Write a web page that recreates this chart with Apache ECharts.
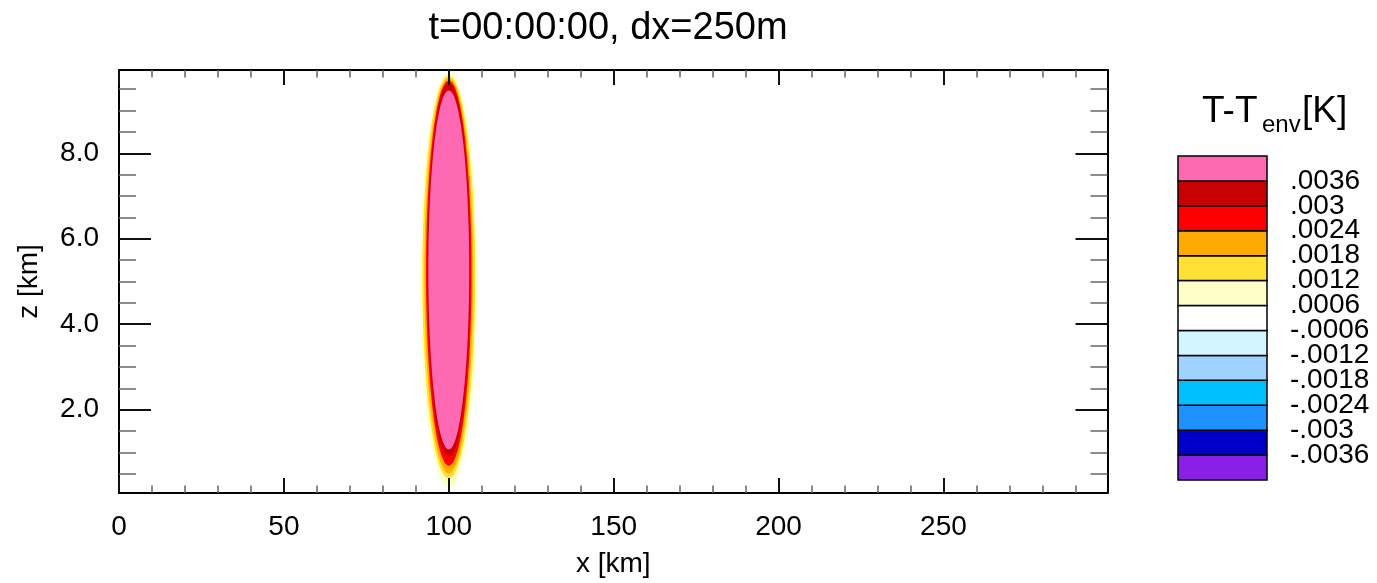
<!DOCTYPE html>
<html>
<head>
<meta charset="utf-8">
<title>T-Tenv, t=00:00:00</title>
<script src="https://cdn.jsdelivr.net/npm/echarts@6/dist/echarts.min.js"></script>
<style>
html, body { margin: 0; padding: 0; background: #fff; }
#chart { width: 1377px; height: 583px; }
</style>
</head>
<body>
<div id="chart"></div>
<script>
const FONT = '"Liberation Sans", Arial, Helvetica, sans-serif';

// contour bands of the bubble, outermost first (km)
const bandLevels = [0.0006, 0.0012, 0.0018, 0.0024, 0.003, 0.0036];
const bandColors = ['#ffffc8', '#ffe033', '#ffaa00', '#ff0000', '#c80000', '#ff69b4'];
const bandCenterX = [100, 100, 100, 100, 100, 100];
const bandHalfWidth = [8.7, 8.0, 7.4, 6.9, 6.5, 6.2];
const bandTop = [9.88, 9.82, 9.76, 9.70, 9.63, 9.47];
const bandBottom = [0.16, 0.39, 0.51, 0.69, 0.90, 1.07];

// axes
const xMin = 0, xMax = 299.75;
const zMin = 0.05, zMax = 9.95;
const xMajor = [0, 50, 100, 150, 200, 250];
const xMinor = [10, 20, 30, 40, 60, 70, 80, 90, 110, 120, 130, 140, 160, 170, 180, 190,
                210, 220, 230, 240, 260, 270, 280, 290];
const zMajor = [2, 4, 6, 8];
const zMinor = [0.5, 1, 1.5, 2.5, 3, 3.5, 4.5, 5, 5.5, 6.5, 7, 7.5, 8.5, 9, 9.5];

// colour bar, bottom to top
const cbColors = ['#8a1fe8', '#0000c8', '#1e90ff', '#00bfff', '#a0d2ff', '#d2f5ff', '#ffffff',
                  '#ffffc8', '#ffe033', '#ffaa00', '#ff0000', '#c80000', '#ff69b4'];
const cbLabels = ['-.0036', '-.003', '-.0024', '-.0018', '-.0012', '-.0006',
                  '.0006', '.0012', '.0018', '.0024', '.003', '.0036'];
// box edges that carry a label, split in two sets so the labels don't collide
const cbTicksOdd = [1, 3, 5, 7, 9, 11];
const cbTicksEven = [2, 4, 6, 8, 10, 12];

const chart = echarts.init(document.getElementById('chart'));

function renderBand(params, api) {
    const cx = api.value(0);
    const zb = api.value(1);
    const zt = api.value(2);
    const rx = api.value(3);
    const cz = (zt + zb) / 2;
    const rz = (zt - zb) / 2;
    const pts = [];
    for (let k = 0; k < 240; k++) {
        const a = k / 240 * Math.PI * 2;
        pts.push(api.coord([cx + rx * Math.cos(a), cz + rz * Math.sin(a)]));
    }
    return {
        type: 'polygon',
        shape: { points: pts },
        style: { fill: bandColors[params.dataIndex], stroke: null }
    };
}

function renderColorBox(params, api) {
    const i = api.value(1);
    const p0 = api.coord([0, i]);
    const p1 = api.coord([1, i + 1]);
    return {
        type: 'rect',
        shape: { x: p0[0], y: p1[1], width: p1[0] - p0[0], height: p0[1] - p1[1] },
        style: { fill: cbColors[params.dataIndex], stroke: '#000', lineWidth: 1.5 }
    };
}

// one side of the frame: major or minor ticks pointing inward
function frameAxis(pos, min, max, ticks, length, minor, opts) {
    return Object.assign({
        type: 'value',
        gridIndex: 0,
        position: pos,
        min: min,
        max: max,
        z: 10,
        splitLine: { show: false },
        axisLine: { show: !minor, onZero: false, lineStyle: { color: '#000', width: 2 } },
        axisTick: {
            show: true, inside: true, length: length, customValues: ticks,
            lineStyle: { color: minor ? '#666' : '#111', width: minor ? 1.5 : 2 }
        },
        axisLabel: { show: false }
    }, opts || {});
}

function colorBarAxis(ticks) {
    return {
        type: 'value', gridIndex: 1, position: 'right', min: 0, max: 13,
        splitLine: { show: false },
        axisLine: { show: false, onZero: false },
        axisTick: { show: false },
        axisLabel: {
            show: true, customValues: ticks, margin: 23,
            showMinLabel: true, showMaxLabel: true,
            fontSize: 28, color: '#000', fontFamily: FONT,
            formatter: v => cbLabels[Math.round(v) - 1]
        }
    };
}

const labelStyle = { show: true, fontSize: 28, color: '#000', fontFamily: FONT };
const nameStyle = { fontSize: 28, color: '#000', fontFamily: FONT };

const option = {
    animation: false,
    backgroundColor: '#fff',
    grid: [
        { left: 119, top: 70, width: 988.5, height: 424 },
        { left: 1178, top: 156, width: 89, height: 324 }
    ],
    xAxis: [
        frameAxis('bottom', xMin, xMax, xMajor, 15, false, {
            axisLabel: Object.assign({ customValues: xMajor, margin: 20 }, labelStyle),
            name: 'x [km]', nameLocation: 'middle', nameGap: 57, nameTextStyle: nameStyle
        }),
        frameAxis('bottom', xMin, xMax, xMinor, 7.5, true),
        frameAxis('top', xMin, xMax, xMajor, 15, false),
        frameAxis('top', xMin, xMax, xMinor, 7.5, true),
        { type: 'value', gridIndex: 1, min: 0, max: 1, show: false }
    ],
    yAxis: [
        frameAxis('left', zMin, zMax, zMajor, 32, false, {
            axisLabel: Object.assign({
                customValues: zMajor, margin: 20,
                formatter: v => v.toFixed(1)
            }, labelStyle),
            name: 'z [km]', nameLocation: 'middle', nameGap: 76, nameTextStyle: nameStyle
        }),
        frameAxis('left', zMin, zMax, zMinor, 17, true),
        frameAxis('right', zMin, zMax, zMajor, 32, false),
        frameAxis('right', zMin, zMax, zMinor, 17, true),
        colorBarAxis(cbTicksOdd),
        colorBarAxis(cbTicksEven)
    ],
    graphic: [
        {
            type: 'text', x: 608, y: 28.5,
            style: {
                text: 't=00:00:00, dx=250m', fill: '#000',
                font: '38px ' + FONT,
                align: 'center', verticalAlign: 'middle',
                textAlign: 'center', textVerticalAlign: 'middle'
            }
        },
        {
            type: 'text', x: 1202, y: 112,
            style: {
                text: 'T-T', fill: '#000', font: '37px ' + FONT,
                align: 'left', verticalAlign: 'middle', textAlign: 'left', textVerticalAlign: 'middle'
            }
        },
        {
            type: 'text', x: 1262, y: 125,
            style: {
                text: 'env', fill: '#000', font: '24px ' + FONT,
                align: 'left', verticalAlign: 'middle', textAlign: 'left', textVerticalAlign: 'middle'
            }
        },
        {
            type: 'text', x: 1302, y: 112,
            style: {
                text: '[K]', fill: '#000', font: '37px ' + FONT,
                align: 'left', verticalAlign: 'middle', textAlign: 'left', textVerticalAlign: 'middle'
            }
        }
    ],
    series: [
        {
            type: 'custom',
            xAxisIndex: 0,
            yAxisIndex: 0,
            silent: true,
            renderItem: renderBand,
            encode: { x: [0, 3], y: [1, 2] },
            data: bandLevels.map((lv, i) => [bandCenterX[i], bandBottom[i], bandTop[i], bandHalfWidth[i], lv])
        },
        {
            type: 'custom',
            xAxisIndex: 4,
            yAxisIndex: 4,
            silent: true,
            renderItem: renderColorBox,
            encode: { x: 0, y: 1 },
            data: cbColors.map((c, i) => [0, i])
        }
    ]
};

chart.setOption(option);
</script>
</body>
</html>
